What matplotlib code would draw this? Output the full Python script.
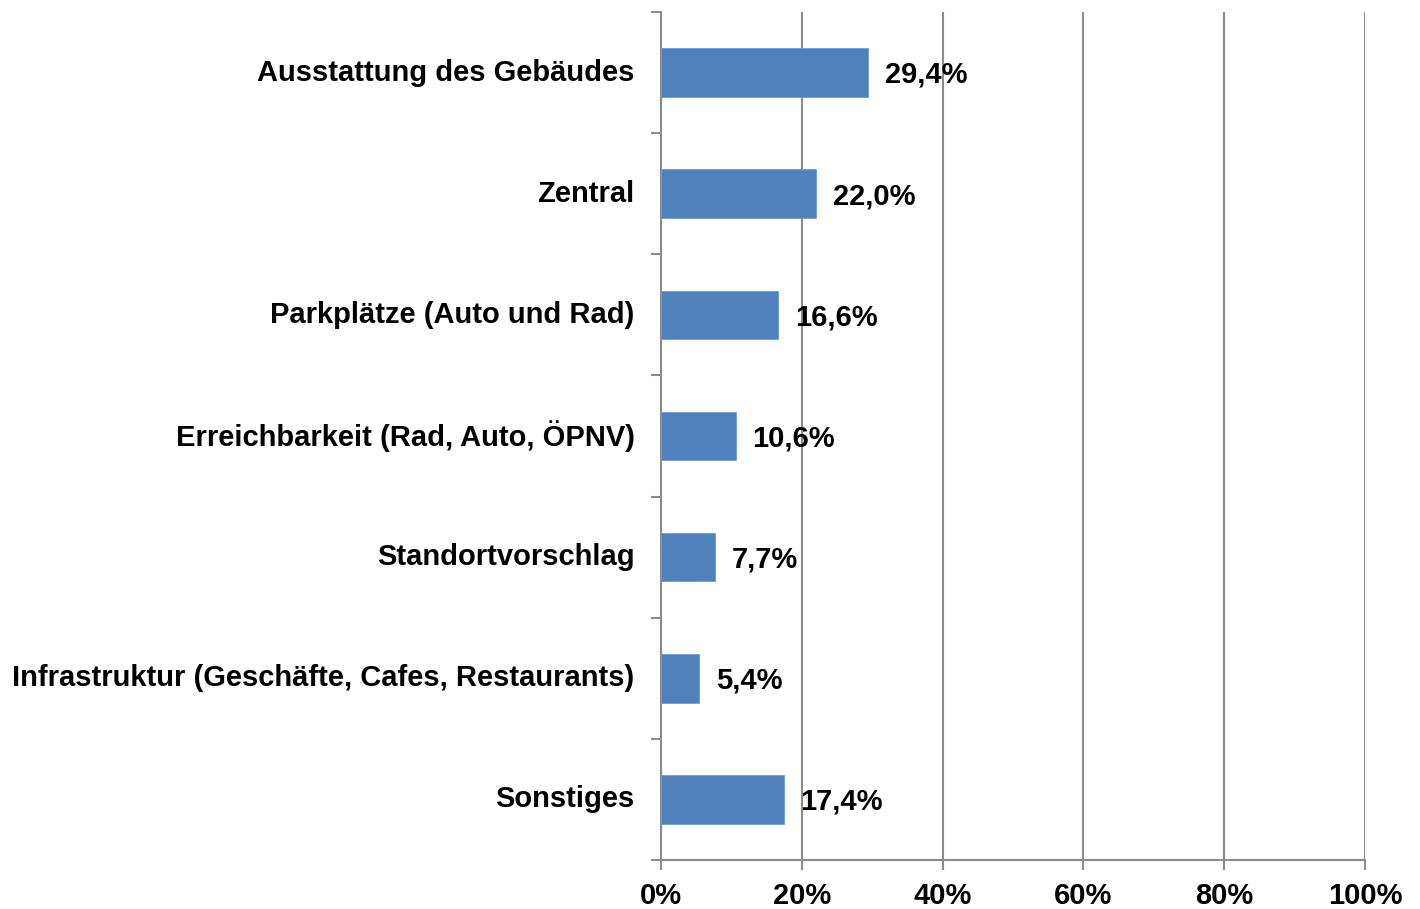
import matplotlib.pyplot as plt

kategorien = [
    "Ausstattung des Gebäudes",
    "Zentral",
    "Parkplätze (Auto und Rad)",
    "Erreichbarkeit (Rad, Auto, ÖPNV)",
    "Standortvorschlag",
    "Infrastruktur (Geschäfte, Cafes, Restaurants)",
    "Sonstiges",
]
anteile = [29.4, 22.0, 16.6, 10.6, 7.7, 5.4, 17.4]
x_ticks = [0, 20, 40, 60, 80, 100]
x_labels = ["0%", "20%", "40%", "60%", "80%", "100%"]

plt.rcParams['font.family'] = ['Liberation Sans', 'DejaVu Sans']

fig = plt.figure(figsize=(14.2, 9.09), dpi=100)
ax = fig.add_axes([0.4655, 0.0539, 0.4958, 0.9329])

grau = "#8c8c8c"
n = len(kategorien)
y = list(range(n))[::-1]
ax.barh(y, anteile, height=0.4, color="#4F81BD", edgecolor="#6f9bd0", linewidth=0.6, zorder=3)

# Beschriftung der Balken
for yi, wert in zip(y, anteile):
    ax.text(wert + 2.4, yi - 0.02, f"{wert:.1f}%".replace(".", ","), va="center", ha="left",
            fontsize=21, fontweight="bold", zorder=4)

ax.set_xlim(0, 100)
ax.set_ylim(-0.5, n - 0.5)
ax.set_xticks(x_ticks)
ax.set_xticklabels(x_labels, fontsize=21, fontweight="bold")
ax.set_yticks(y)
ax.set_yticklabels(kategorien, fontsize=21, fontweight="bold", va="center")
ax.tick_params(axis="y", length=0, pad=19)
ax.set_yticks([i - 0.5 for i in range(n + 1)], minor=True)
ax.tick_params(axis="y", which="minor", length=7, color=grau, width=1.5)
ax.tick_params(axis="x", length=7, color=grau, width=1.5, pad=9)

ax.grid(axis="x", color=grau, linewidth=1.5, zorder=0)
for s in ["top", "right"]:
    ax.spines[s].set_visible(False)
for s in ["left", "bottom"]:
    ax.spines[s].set_color(grau)
    ax.spines[s].set_linewidth(1.5)

fig.savefig("out.png", dpi=100)
